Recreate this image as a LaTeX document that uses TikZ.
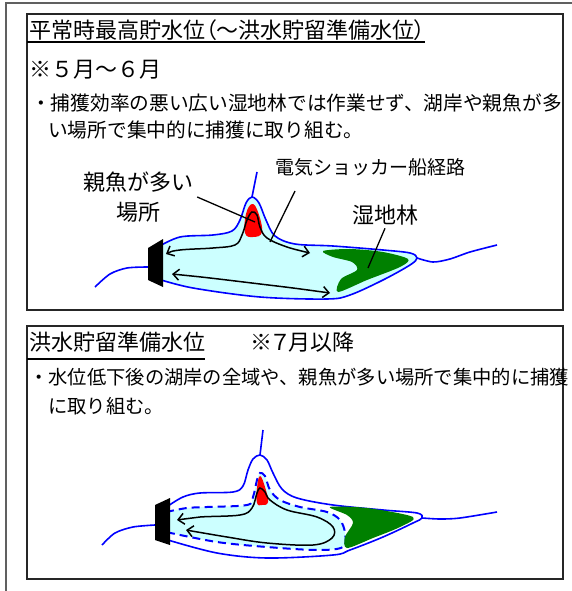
\documentclass[tikz,border=0pt]{standalone}
\usepackage{fontspec}
\setmainfont{Noto Sans CJK JP}
\newfontfamily\headfont[RawFeature=+palt]{Noto Sans CJK JP}
\definecolor{shoreblue}{RGB}{0,0,255}
\definecolor{lakewater}{RGB}{204,255,255}
\definecolor{wetgreen}{RGB}{0,128,0}
\definecolor{fishred}{RGB}{255,0,0}
\definecolor{framegray}{RGB}{96,96,96}
\usetikzlibrary{arrows.meta}

\begin{document}
\begin{tikzpicture}[x=1pt, y=-1pt,
  panelbox/.style={draw=black!85, line width=1.3pt},
  headtext/.style={anchor=west, inner sep=0pt, font=\headfont\fontsize{22}{26}\selectfont},
  monthtext/.style={anchor=west, inner sep=0pt, font=\fontsize{22}{26}\selectfont},
  bodytext/.style={anchor=west, inner sep=0pt, font=\fontsize{19.3}{23}\selectfont},
  tagtext/.style={align=center, inner sep=4pt, font=\fontsize{22}{30}\selectfont},
  uline/.style={draw=black, line width=1.3pt},
  shore/.style={draw=shoreblue, line width=1.6pt},
  dashshore/.style={draw=shoreblue, line width=2pt, dash pattern=on 8pt off 5pt},
  dam/.style={fill=black},
  route/.style={draw=black, line width=1.5pt,
    {Straight Barb[length=6pt,width=11pt]}-{Straight Barb[length=6pt,width=11pt]}},
  leader/.style={draw=black, line width=1.3pt}
]
\useasboundingbox (0,0) rectangle (571,591);
\draw[framegray, line width=1.8pt] (6,595) -- (6,3) -- (575,3);

% upper panel
\draw[panelbox] (27,14) rectangle (563,310);
\node[headtext] (hd1) at (29,30) {平常時最高貯水位（〜洪水貯留準備水位）};
\coordinate (ul1) at (27,42);
\draw[uline] (ul1) -- (ul1 -| hd1.east);
\node[monthtext] (mon1) at (29,70) {※５月〜６月};
\node[bodytext, font=\fontsize{19.7}{23}\selectfont] (txt1a) at (31,103) {・捕獲効率の悪い広い湿地林では作業せず、湖岸や親魚が多};
\node[bodytext, font=\fontsize{19.7}{23}\selectfont] (txt1b) at (48,130) {い場所で集中的に捕獲に取り組む。};

\filldraw[shore, fill=lakewater] plot[smooth, tension=0.55] coordinates {
  (158,247) (180,237) (213,235) (232,231) (240,220) (246,203) (252,197)
  (259,203) (266,220) (275,236) (295,244) (333,246) (383,250) (410,253)
  (417,258) (410,265) (383,280) (350,295) (327,299) (260,297) (193,288) (158,279)} -- cycle;
\fill[wetgreen] plot[smooth cycle, tension=0.5] coordinates {
  (323,251) (350,249) (383,252) (408,259) (400,267) (367,280) (338,292)
  (341,279) (357,270) (352,262) (333,257)};
\fill[fishred] plot[smooth cycle, tension=0.7] coordinates {
  (252,204) (258,212) (262,232) (253,237) (245,233) (246,214)};
\draw[shore] (252,197) -- (257,172);
\draw[shore] plot[smooth] coordinates {(95,287) (110,274) (127,268) (148,267)};
\draw[shore] plot[smooth] coordinates {(417,258) (433,262) (450,259) (470,252) (497,245)};
\fill[dam] (148,248) -- (163,239) -- (163,287) -- (148,280) -- cycle;

\draw[route] plot[smooth, tension=0.6] coordinates {
  (166,254) (180,250) (213,248) (235,245) (242,235) (247,220) (252,212)
  (257,215) (260,227) (267,238) (287,247) (310,253)};
\draw[route] plot[smooth] coordinates {(172,274) (210,278) (260,284) (293,288) (330,293)};

\node[tagtext] (tagfish) at (138,197) {親魚が多い\\場所};
\node[anchor=west, inner sep=0pt, font=\fontsize{19}{23}\selectfont] (tagroute) at (275,167) {電気ショッカー船経路};
\node[tagtext, inner sep=3pt] (tagwet) at (385,215) {湿地林};
\coordinate (fishpt) at (255,222);
\coordinate (routept) at (270,242);
\coordinate (wetpt) at (368,268);
\draw[leader] (tagfish.east) -- (fishpt);
\draw[leader] ([xshift=20pt, yshift=-15pt]tagroute.south west) -- (routept);
\draw[leader] (tagwet.south) -- (wetpt);

% lower panel
\draw[panelbox] (27,326) rectangle (563,579);
\node[headtext] (hd2) at (29,342) {洪水貯留準備水位};
\node[headtext] (hd2note) at (250,342) {※７月以降};
\coordinate (ul2) at (27,359);
\draw[uline] (ul2) -- (ul2 -| hd2.east);
\node[bodytext] (txt2a) at (29,377) {・水位低下後の湖岸の全域や、親魚が多い場所で集中的に捕獲};
\node[bodytext] (txt2b) at (48,406) {に取り組む。};

\draw[shore] plot[smooth, tension=0.55] coordinates {
  (168,506) (183,497) (200,493) (233,492) (243,486) (248,470) (253,459) (260,455)
  (267,460) (273,473) (282,489) (297,498) (333,505) (383,510) (417,513) (422,518)
  (413,523) (383,537) (350,550) (333,555) (267,558) (217,553) (168,540)};
\filldraw[dashshore, fill=lakewater] plot[smooth, tension=0.55] coordinates {
  (166,512) (187,508) (207,507) (247,505) (253,497) (257,480) (260,473) (265,476)
  (270,490) (280,500) (300,507) (327,512) (340,520) (345,533) (343,547) (317,550)
  (267,547) (217,542) (166,532)} -- cycle;
\fill[wetgreen] plot[smooth cycle, tension=0.5] coordinates {
  (330,507) (367,508) (413,517) (400,527) (373,538) (347,548) (345,537)
  (353,523) (347,515)};
\fill[fishred] plot[smooth cycle, tension=0.7] coordinates {
  (260,476) (265,487) (268,502) (262,505) (257,503) (257,488)};
\draw[shore] (260,455) -- (263,430);
\draw[shore] plot[smooth] coordinates {(102,545) (115,533) (133,527) (155,525)};
\draw[shore] plot[smooth] coordinates {(422,518) (440,519) (460,518) (497,512)};
\fill[dam] (155,505) -- (170,498) -- (170,545) -- (155,540) -- cycle;

\draw[route] plot[smooth, tension=0.6] coordinates {
  (177,520) (200,517) (240,515) (252,508) (257,493) (260,488) (265,492)
  (270,500) (287,510) (317,517) (333,527) (332,538) (313,545) (267,543)
  (227,537) (186,530)};
\end{tikzpicture}
\end{document}
